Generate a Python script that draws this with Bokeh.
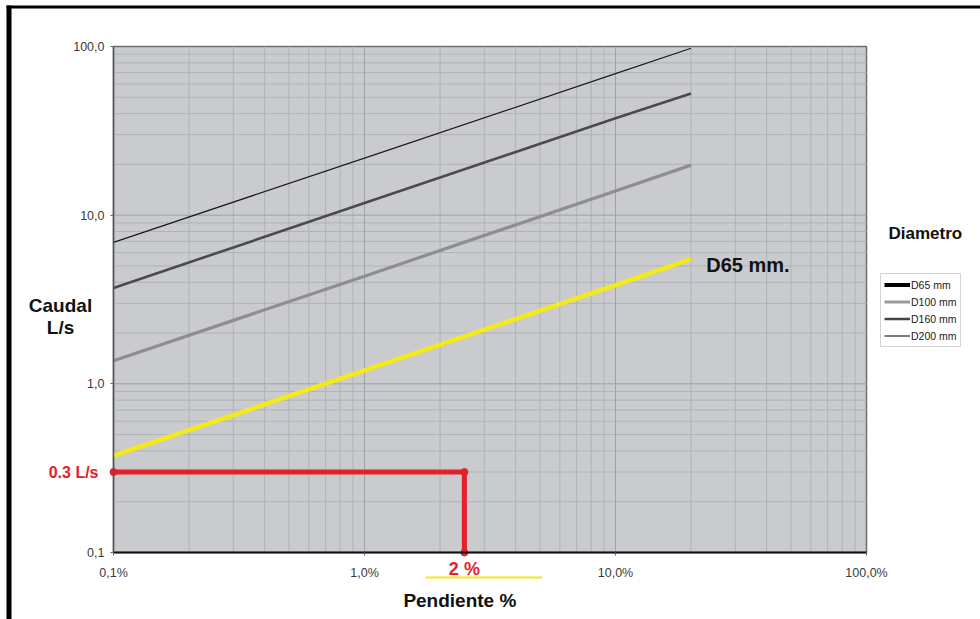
import math
from bokeh.plotting import figure
from bokeh.models import (FixedTicker, Label, Legend, LegendItem, BoxAnnotation, Range1d)
from bokeh.embed import file_html
from bokeh.resources import INLINE

# ---- data ----
slope = [0.1, 1.0, 10.0, 20.0]           # Pendiente %
d65 = [0.375, 1.2, 3.85, 5.5]            # Caudal L/s
d100 = [1.37, 4.35, 13.9, 19.8]
d160 = [3.7, 11.8, 37.5, 52.7]
d200 = [6.9, 21.8, 69.0, 97.6]
series_names = ["D65 mm", "D100 mm", "D160 mm", "D200 mm"]

example_q = 0.3      # L/s (read position of the red guide)
example_s = 2.5      # % (read position of the red guide, labelled "2 %")
underline_x = [1.75, 5.1]

x_major = [0.1, 1, 10, 100]
x_labels = ["0,1%", "1,0%", "10,0%", "100,0%"]
y_major = [0.1, 1, 10, 100]
y_labels = ["0,1", "1,0", "10,0", "100,0"]
x_lim = (0.1, 100)
y_lim = (0.1, 100)

FONT = "Liberation Sans"
RED = "#e3202b"
YEL = "#f4ea18"
INK = "#111111"

# ---- layout (canvas pixels) ----
W, H = 980, 619
CL, CR, CT, CB = 113, 866, 46, 552      # chart area inside canvas
dx = (CR - CL) / 3.0                    # px per decade
dy = (CB - CT) / 3.0
x_range = Range1d(10 ** (math.log10(x_lim[0]) - CL / dx), 10 ** (math.log10(x_lim[1]) + (W - CR) / dx))
y_range = Range1d(10 ** (math.log10(y_lim[0]) - (H - CB) / dy), 10 ** (math.log10(y_lim[1]) + CT / dy))

p = figure(width=W, height=H, x_axis_type="log", y_axis_type="log",
           x_range=x_range, y_range=y_range,
           output_backend="svg", toolbar_location=None,
           min_border=0, min_border_left=0, min_border_right=0,
           min_border_top=0, min_border_bottom=0)
p.background_fill_color = "white"
p.border_fill_color = "white"
p.outline_line_color = None
p.xgrid.visible = False
p.ygrid.visible = False

# chart background
p.quad(left=[x_lim[0]], right=[x_lim[1]], bottom=[y_lim[0]], top=[y_lim[1]],
       fill_color="#c9cbce", line_color="#6e6e6e", line_width=1.5)

# grid lines from tick lists
minor = []
for d in [0.1, 1, 10]:
    minor += [d * k for k in range(2, 10)]
p.segment(x0=minor, y0=[y_lim[0]] * len(minor), x1=minor, y1=[y_lim[1]] * len(minor),
          line_color="#b0b3b6", line_width=1)
p.segment(x0=[x_lim[0]] * len(minor), y0=minor, x1=[x_lim[1]] * len(minor), y1=minor,
          line_color="#b0b3b6", line_width=1)
p.segment(x0=x_major[1:-1], y0=[y_lim[0]] * 2, x1=x_major[1:-1], y1=[y_lim[1]] * 2,
          line_color="#9ea1a5", line_width=1)
p.segment(x0=[x_lim[0]] * 2, y0=y_major[1:-1], x1=[x_lim[1]] * 2, y1=y_major[1:-1],
          line_color="#9ea1a5", line_width=1)

# axes fixed at the chart edges
p.xaxis.fixed_location = y_lim[0]
p.yaxis.fixed_location = x_lim[0]
p.xaxis.bounds = x_lim
p.yaxis.bounds = y_lim
p.xaxis.ticker = FixedTicker(ticks=x_major)
p.yaxis.ticker = FixedTicker(ticks=y_major)
p.xaxis.major_label_overrides = {v: s for v, s in zip(x_major, x_labels)}
p.yaxis.major_label_overrides = {v: s for v, s in zip(y_major, y_labels)}
for ax in [p.xaxis, p.yaxis]:
    ax.major_label_text_font = FONT
    ax.major_label_text_font_size = "12.5px"
    ax.major_label_text_color = "#3a3a3a"
    ax.minor_tick_line_color = None
    ax.major_tick_out = 3
    ax.major_tick_in = 0
    ax.major_tick_line_color = "#666666"
p.xaxis.axis_line_color = "#111111"
p.xaxis.axis_line_width = 2
p.yaxis.axis_line_color = "#555555"
p.yaxis.axis_line_width = 1.5
p.yaxis.major_label_standoff = 6
p.xaxis.major_label_standoff = 10

# data lines
p.line(slope, d200, line_color="#1c1c1c", line_width=1.2)
p.line(slope, d160, line_color="#4b4b4b", line_width=2.6)
p.line(slope, d100, line_color="#8e8e8e", line_width=3.2)
p.line(slope, d65, line_color=YEL, line_width=4.5)

# red example
p.line([x_lim[0], example_s], [example_q, example_q], line_color=RED, line_width=5)
p.line([example_s, example_s], [example_q, y_lim[0]], line_color=RED, line_width=5)
p.scatter([x_lim[0], example_s, example_s], [example_q, example_q, y_lim[0]],
          size=7, color=RED)

# legend with placeholder renderers (no visible data)
leg_styles = [("#000000", 4), ("#9a9a9a", 3), ("#444444", 2.5), ("#222222", 1.2)]
items = []
for name, (c, w) in zip(series_names, leg_styles):
    r = p.line(x=[float("nan")], y=[float("nan")], line_color=c, line_width=w)
    items.append(LegendItem(label=name, renderers=[r]))
legend = Legend(items=items, location=(880, H - 347), label_text_font=FONT,
                label_text_font_size="10.5px", label_text_color="#222222",
                glyph_width=26, glyph_height=15, label_height=15,
                spacing=2, padding=3, margin=0, label_standoff=1,
                border_line_color="#aaaaaa", background_fill_color="white",
                background_fill_alpha=1)
p.add_layout(legend, "center")

# texts
def lab(**kw):
    base = dict(text_font=FONT, text_font_style="bold", text_color=INK,
                text_baseline="middle")
    base.update(kw)
    p.add_layout(Label(**base))

lab(x=slope[-1] * 1.15, y=d65[-1] * 0.92, text="D65 mm.", text_font_size="20px")
lab(x=98, y=example_q, x_units="screen", text="0.3 L/s", text_font_size="16px",
    text_align="right", text_color=RED)
lab(x=example_s, y=H - 568, y_units="screen", text="2 %", text_font_size="18px",
    text_align="center", text_color=RED)
p.add_layout(BoxAnnotation(left=underline_x[0], right=underline_x[1],
                           bottom=H - 578, top=H - 576, bottom_units="screen", top_units="screen",
                           fill_color=YEL, fill_alpha=1, line_color=None))
lab(x=462, y=H - 600, x_units="screen", y_units="screen", text="Pendiente  %",
    text_font_size="19px", text_align="center")
lab(x=60, y=H - 305, x_units="screen", y_units="screen", text="Caudal",
    text_font_size="19px", text_align="center")
lab(x=60, y=H - 327, x_units="screen", y_units="screen", text="L/s",
    text_font_size="19px", text_align="center")
lab(x=888, y=H - 233, x_units="screen", y_units="screen", text="Diametro",
    text_font_size="17px", text_align="left")

# black frame bars (left and top edges of the picture)
p.add_layout(BoxAnnotation(left=6, right=11, bottom=0, top=H - 5,
                           left_units="screen", right_units="screen",
                           bottom_units="screen", top_units="screen",
                           fill_color="black", fill_alpha=1, line_color=None))
p.add_layout(BoxAnnotation(left=6, right=W, bottom=H - 8, top=H - 5,
                           left_units="screen", right_units="screen",
                           bottom_units="screen", top_units="screen",
                           fill_color="black", fill_alpha=1, line_color=None))

open("out.html", "w").write(file_html(p, INLINE))
